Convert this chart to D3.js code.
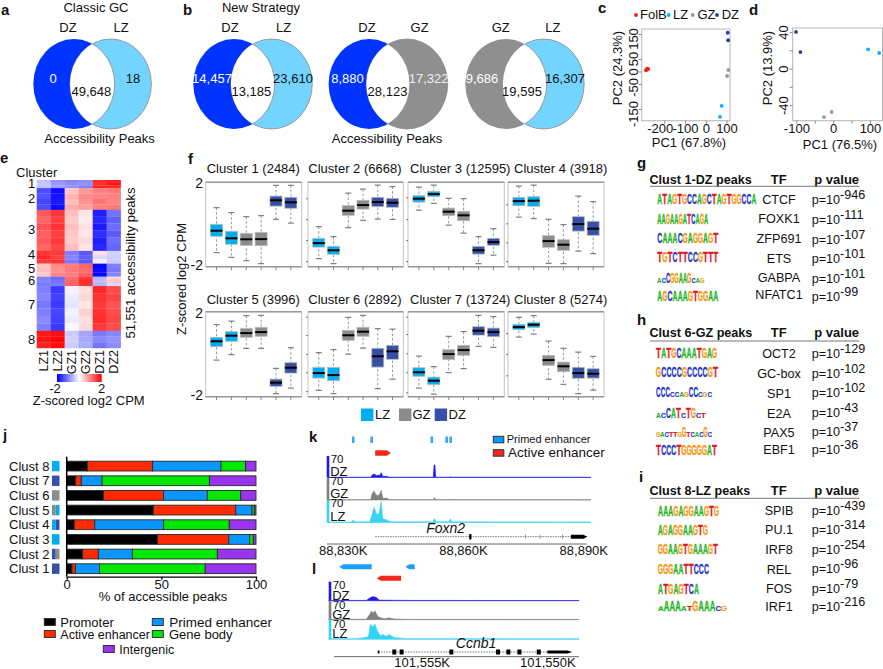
<!DOCTYPE html>
<html><head><meta charset="utf-8">
<script src="https://cdn.jsdelivr.net/npm/d3@7"></script>
<style>
html,body{margin:0;padding:0;background:#fff}
svg{display:block}
text{font-family:"Liberation Sans",Arial,sans-serif;font-size:13px;fill:#111}
.panel{font-weight:bold;font-size:15px}
</style></head><body>
<svg id="c" width="883" height="669"></svg>
<script>
// ---------- data ----------
const C = {DZ:"#0033ff", LZ:"#73d4ff", GZ:"#8f8f8f"};
const vennNames = [["DZ","LZ"],["DZ","LZ"],["DZ","GZ"],["GZ","LZ"]];
const vennLeft = [0,14457,8880,9686];
const vennBoth = [49648,13185,28123,19595];
const vennRight = [18,23610,17322,16307];

const folb = [[-288,5],[-285,8],[-282,11],[-278,10]];
const pcaCLZ = [[77,-138],[69,-182]];
const pcaCGZ = [[109,6],[103,-18]];
const pcaCDZ = [[106,155],[108,125]];
const pcaDLZ = [[95,21],[125,17]];
const pcaDGZ = [[-4,-47.5],[-25,-53]];
const pcaDDZ = [[-101,40],[-89,18]];

const clusterCounts = [2484,6668,12595,3918,3996,2892,13724,5274];
const heatSamples = ["LZ1","LZ2","GZ1","GZ2","DZ1","DZ2"];
const heat1 = [[-.5,-.85,-.95,-.9,1.7,1.75],[-.45,-.8,-.9,-.85,1.6,1.85],[-.5,-.75,-.85,-1,1.75,1.7]];
const heat2 = [[-1.4,-1.9,.45,.8,1,1.05],[-1.35,-1.85,.6,.9,.95,1],[-1.45,-1.8,.5,.85,1.1,.95],[-1.4,-1.9,.65,.75,1,1.05]];
const heat3 = [[1.3,1.55,.5,.2,-1.75,-1.1],[1.2,1.5,.4,.15,-1.7,-1.25],[1.35,1.6,.5,.25,-1.8,-1.15],[1.25,1.5,.45,.2,-1.65,-1.3],[1.3,1.55,.4,.3,-1.75,-1.15],[1.2,1.45,.5,.2,-1.7,-1.2]];
const heat4 = [[1.6,1.55,-1,-1.3,.25,-.35],[1.7,1.5,-.95,-1.25,-.3,-.4],[1.55,1.6,-1.05,-1.3,.15,-.4]];
const heat5 = [[.45,.9,1,1.2,-1.95,-1],[.5,.85,1.05,1.15,-1.9,-1.05],[.4,.95,1,1.25,-1.95,-.95]];
const heat6 = [[-1,-1.15,1.15,1.55,-.55,.3],[-.95,-1.1,1.2,1.65,-.5,.45],[-1.05,-1.05,1.25,1.6,-.6,-.3]];
const heat7 = [[-1,-1.55,-.1,.25,1.7,1.4],[-.95,-1.5,-.15,.3,1.6,1.45],[-1.05,-1.55,-.2,.2,1.55,1.35],[-1,-1.45,-.1,.35,1.6,1.4],[-.9,-1.5,-.15,.25,1.65,1.45],[-1,-1.55,-.05,.3,1.55,1.4]];
const heat8 = [[1.8,1.9,-.4,-.7,-1.05,-.95],[1.85,1.95,-.35,-.7,-.95,-.85],[1.75,1.9,-.4,-.65,-1.1,-.9]];
const heatRows = [heat1,heat2,heat3,heat4,heat5,heat6,heat7,heat8];

const boxGroups = ["LZ","LZ","GZ","GZ","DZ","DZ"];
const boxColors = {LZ:"#00aeef",GZ:"#8c8c8c",DZ:"#3650a8"};
// each box: whisker high, q3, median, q1, whisker low
const box1 = [[.70,-.13,-.45,-.73,-1.55],[.45,-.48,-.83,-1.13,-1.78],[.25,-.58,-.88,-1.18,-1.95],[.30,-.53,-.87,-1.20,-2.10],[1.82,1.28,1.07,.78,.12],[1.82,1.22,.97,.67,-.07]];
const box2 = [[-.25,-.83,-1.07,-1.27,-1.85],[-.75,-1.23,-1.43,-1.63,-2.10],[1.43,.80,.55,.32,-.30],[1.63,1.07,.83,.63,.07],[1.83,1.22,.98,.75,.13],[1.75,1.17,.95,.72,.12]];
const box3 = [[1.73,1.30,1.15,.98,.58],[1.83,1.52,1.38,1.25,.92],[1.17,.68,.50,.30,-.17],[1.15,.52,.32,.05,-.57],[-.75,-1.23,-1.43,-1.62,-2.10],[-.35,-.83,-1.02,-1.18,-1.67]];
const box4 = [[1.78,1.22,1.03,.80,.23],[1.83,1.25,1.05,.77,.15],[.12,-.70,-.97,-1.28,-2.08],[-.15,-.90,-1.15,-1.43,-2.10],[1.28,.25,-.12,-.47,-1.47],[1.00,.02,-.35,-.68,-1.60]];
const box5 = [[1.35,.72,.52,.25,-.42],[1.53,1.00,.80,.52,-.15],[1.80,1.17,.93,.72,.17],[1.82,1.22,.98,.77,.17],[-.83,-1.37,-1.55,-1.73,-2.10],[.20,-.55,-.80,-1.07,-1.82]];
const box6 = [[-.05,-.78,-1.07,-1.32,-1.93],[.10,-.78,-1.17,-1.45,-2.10],[1.72,1.07,.82,.57,-.12],[1.82,1.22,1.00,.77,.18],[1.15,.17,-.23,-.77,-1.85],[1.13,.32,.02,-.38,-1.37]];
const box7 = [[-.22,-.80,-1.03,-1.23,-1.82],[-.75,-1.27,-1.45,-1.65,-2.12],[.77,.10,-.12,-.40,-1.05],[1.00,.32,.08,-.18,-.85],[1.82,1.25,1.05,.83,.27],[1.75,1.18,.98,.75,.22]];
const box8 = [[1.72,1.37,1.23,1.10,.73],[1.80,1.47,1.35,1.20,.88],[.53,-.18,-.42,-.68,-1.38],[.17,-.52,-.73,-1.00,-1.63],[-.02,-.78,-1.07,-1.33,-2.10],[-.23,-.85,-1.10,-1.32,-1.92]];
const boxPanels = [box1,box2,box3,box4,box5,box6,box7,box8];
const panelTicks = [[],[1.17,.13,-.92,-1.97],[1.22,.13,-.92,-1.97],[.87,-.08,-1.03,-1.97],[],[1.75,.83,-.12,-1.03,-1.97],[1.75,.88,-.08,-1.03,-2.03],[.93,-.12,-1.18]];

const stackKeys = ["Promoter","Active enhancer","Primed enhancer","Gene body","Intergenic"];
const stackColors = ["#000000","#ff2a00","#0a96ff","#00e800","#9933ee"];
const clustNames = ["Clust 8","Clust 7","Clust 6","Clust 5","Clust 4","Clust 3","Clust 2","Clust 1"];
const clustSwatch = [["LZ"],["DZ"],["GZ"],["GZ","LZ"],["LZ","DZ"],["LZ"],["DZ","GZ"],["DZ"]];
const promoter = [10.9,4.8,19.5,45.8,4,48,8.5,2.8];
const active = [34.5,2.9,31.7,43.5,10.8,37.6,8.2,1.8];
const primed = [36.1,11,23.1,8.6,36.4,11.1,18,12.7];
const geneBody = [13,56.7,17.6,1.2,34.7,1.9,44.9,55.9];
const intergenic = [5.5,24.6,8.1,.9,14.1,1.4,20.4,26.8];

const kDZ = [[88826.3,.8],[88837,1],[88837.4,9],[88838,11],[88838.3,5],[88838.8,8],[88839.2,6],[88839.6,15],[88840,3],[88841,4],[88841.6,1],[88852.6,1],[88852.8,40],[88853,40],[88853.2,1],[88856.8,1],[88856.9,3],[88857.1,1],[88891.9,.8]];
const kGZ = [[88826.3,.8],[88837,1],[88837.3,18],[88837.8,29],[88838.2,18],[88838.6,14],[88839.1,16],[88839.6,31],[88840,5],[88841,6],[88841.6,1],[88852.6,1],[88852.9,8],[88853.2,1],[88856.7,1],[88856.9,3],[88857.1,1],[88891.9,.8]];
const kLZ = [[88826.3,1.5],[88832.2,1.5],[88832.6,8],[88833,2],[88836.8,2],[88837.2,20],[88837.8,48],[88838.3,32],[88838.6,24],[88839.1,30],[88839.6,66],[88840,12],[88841,8],[88842,2],[88852.5,2],[88852.9,12],[88853.3,2],[88856.6,2],[88856.9,12],[88857.2,2],[88891.9,1.5]];
const kPrimedBlocks = [88832.6,88837.2,88852.2,88855.9,88856.9];
const kActive = [88838.1,88842];
const kExons = [88861.8];
const kMinor = [88875.6,88879.2,88884.8];
const kGene = [88838.1,88891,88886.9];
const kTicks = [88830,88860,88890];

const lDZ = [[101558.7,.6],[101557.2,1],[101557.1,7],[101556.95,13],[101556.8,10],[101556.7,2],[101556.3,1.5],[101555.3,.8],[101548.74,.6]];
const lGZ = [[101558.7,.8],[101557.2,1.5],[101557.08,16],[101557,27],[101556.93,21],[101556.86,28],[101556.75,10],[101556.6,5],[101556.45,3],[101556.3,6],[101556.1,2],[101555.6,1],[101548.74,.8]];
const lLZ = [[101558.7,1.5],[101557.6,2],[101557.3,5],[101557.12,8],[101557.04,48],[101556.95,40],[101556.86,48],[101556.75,24],[101556.62,10],[101556.55,16],[101556.42,9],[101556.3,15],[101556.1,6],[101555.7,2],[101548.74,1.5]];
const lPrimedA = [101558.28,101556.99];
const lPrimedB = [101555.65,101555.28];
const lActive = [101556.79,101555.82];
const lExons = [101556.09,101555.8,101553.82,101551.96,101551.55,101551.11,101550.34];
const lGene = [101556.73,101549.03,101550];
const lTicks = [101555,101550];

// Motif strings: uppercase letters are tall, lowercase letters are short
const gNames = ["CTCF","FOXK1","ZFP691","ETS","GABPA","NFATC1"];
const gMotifs = ["ATAGTGCCAGCTAGTGGCCA","AAGAAGATCAGA","CAAACGAGGAGT","TGTCTTCCGTTT","acCGGAAGcag","AGCAAAGTGGAA"];
const gExp = ["-946","-111","-107","-101","-101","-99"];
const hNames = ["OCT2","GC-box","SP1","E2A","PAX5","EBF1"];
const hMotifs = ["TATGCAAATGAG","GCCCCGCCCCGT","CCCccagCCcgc","acCATcTGct","gacttgGtcacGc","TCCCTGGGGGAT"];
const hExp = ["-129","-102","-102","-43","-37","-36"];
const iNames = ["SPIB","PU.1","IRF8","REL","FOS","IRF1"];
const iMotifs = ["AAAGAGGAAGTG","AGAGGAAGTG","GGAAGTGAAAGT","GGGAATTCCC","ATGAGTCA","aAAAatGAAAcg"];
const iExp = ["-439","-314","-254","-96","-79","-216"];

// ---------- helpers ----------
const svg = d3.select("#c");
const defs = svg.append("defs");
function T(x,y,s,o={}){
  const t = svg.append("text").attr("x",x).attr("y",y).text(s)
    .attr("text-anchor",o.a||"middle");
  if(o.size) t.style("font-size",o.size+"px");
  if(o.fill) t.style("fill",o.fill);
  if(o.bold) t.style("font-weight","bold");
  if(o.it) t.style("font-style","italic");
  if(o.rot!=null) t.attr("transform",`rotate(${o.rot} ${x} ${y})`);
  return t;
}
const P = (x,y,s)=>T(x,y,s,{a:"start"}).attr("class","panel");

// ---------- a / b venns ----------
const fmt = d3.format(",");
const vennGeo = [
 {l:74,r:110.7,tx:[53,133,91.4],nx:[68,121],lab:vennNames[0]},
 {l:234,r:271.6,tx:[212,293,251.4],nx:[230,283.6],lab:vennNames[1]},
 {l:369.3,r:407,tx:[347.5,428.6,387.5],nx:[367,419.6],lab:vennNames[2]},
 {l:506,r:543.5,tx:[482,565,522],nx:[500.7,552.9],lab:vennNames[3]}];
const cy=84,rx=40.7,ry=45;
vennGeo.forEach((g,i)=>{
  const id="cl"+i, idr="cr"+i;
  defs.append("clipPath").attr("id",id).append("ellipse").attr("cx",g.l).attr("cy",cy).attr("rx",rx).attr("ry",ry);
  defs.append("clipPath").attr("id",idr).append("ellipse").attr("cx",g.r).attr("cy",cy).attr("rx",rx).attr("ry",ry);
  svg.append("ellipse").attr("cx",g.l).attr("cy",cy).attr("rx",rx).attr("ry",ry).attr("fill",C[g.lab[0]]);
  svg.append("ellipse").attr("cx",g.r).attr("cy",cy).attr("rx",rx).attr("ry",ry).attr("fill",C[g.lab[1]]).attr("stroke","#888").attr("stroke-width",.8);
  svg.append("ellipse").attr("cx",g.r).attr("cy",cy).attr("rx",rx).attr("ry",ry).attr("fill","#fff").attr("clip-path",`url(#${id})`);
  svg.append("ellipse").attr("cx",g.l).attr("cy",cy).attr("rx",rx).attr("ry",ry).attr("fill","none").attr("stroke","#888").attr("stroke-width",.8).attr("clip-path",`url(#${idr})`);
  T(g.nx[0],32,g.lab[0]); T(g.nx[1],32,g.lab[1]);
  T(g.tx[0],83,fmt(vennLeft[i]),{fill:"#fff"});
  T(g.tx[1],83,fmt(vennRight[i]),{fill:g.lab[1]==="GZ"?"#eee":"#111"});
  T(g.tx[2],96,fmt(vennBoth[i]));
});
P(1,15,"a"); P(183,15,"b");
T(96,12,"Classic GC"); T(261,12,"New Strategy");
T(99.6,143,"Accessibility Peaks"); T(387,143,"Accessibility Peaks");

// ---------- c / d PCA ----------
function pca(box,xs,ys,xTicks,xLabeled,yTicks,yLabeled,series,xTitle,yTitle,geom){
  const x=d3.scaleLinear().domain(xs).range([box[0],box[1]]);
  const y=d3.scaleLinear().domain(ys).range([box[3],box[2]]);
  svg.append("rect").attr("x",box[0]).attr("y",box[2]).attr("width",box[1]-box[0]).attr("height",box[3]-box[2]).attr("fill","none").attr("stroke","#b5b5b5");
  const ax=svg.append("g").attr("transform",`translate(0,${box[3]})`)
    .call(d3.axisBottom(x).tickValues(xTicks).tickSize(3).tickFormat(v=>xLabeled.includes(v)?String(v):""));
  ax.select(".domain").remove(); ax.selectAll("line").attr("stroke","#888");
  ax.selectAll("text").attr("y",geom.xTickDy).attr("dy",0).style("font-size","13px")
    .attr("x",v=>(geom.xShift&&geom.xShift[v])||0);
  const ay=svg.append("g").attr("transform",`translate(${box[0]},0)`)
    .call(d3.axisLeft(y).tickValues(yTicks).tickSize(3).tickFormat(v=>yLabeled.includes(v)?String(v):""));
  ay.select(".domain").remove(); ay.selectAll("line").attr("stroke","#888");
  ay.selectAll("text").attr("x",0).attr("y",0).attr("dy",0).attr("text-anchor","middle")
    .attr("transform",v=>`translate(${-geom.yTickDx},${(geom.yShift&&geom.yShift[v])||0}) rotate(-90)`).style("font-size","13px");
  series.forEach(s=>svg.selectAll(null).data(s[0]).join("circle")
     .attr("cx",d=>x(d[0])).attr("cy",d=>y(d[1])).attr("r",s[2]).attr("fill",s[1]));
  T(xTitle[1],xTitle[2],xTitle[0]);
  T(yTitle[1],yTitle[2],yTitle[0],{rot:-90});
}
pca([641.7,730,29,120.7],[-309,117],[-197,170],[-200,-100,0,100],[-200,-100,0,100],[150,50,0,-50,-150],[150,50,0,-50,-150],
  [[folb,"#ff1a1a",2],[pcaCLZ,"#00b4ff",1.9],[pcaCGZ,"#999",1.9],[pcaCDZ,"#25409c",1.9]],
  ["PC1 (67.8%)",689,147],["PC2 (24.3%)",622,68],{xTickDy:12,yTickDx:4,xShift:{"-200":-4.5},yShift:{"150":4.5,"-50":3,"-150":4.5,"50":-.5}});
pca([792.7,882.5,28,120.7],[-110,134],[-57,44.3],[-100,-50,0,50,100],[-100,0,100],[40,20,0,-20,-40],[40,0,-40],
  [[pcaDLZ,"#00b4ff",1.9],[pcaDGZ,"#999",1.9],[pcaDDZ,"#25409c",1.9]],
  ["PC1 (76.5%)",840,149],["PC2 (13.9%)",772,68],{xTickDy:12,yTickDx:5});
P(598,13,"c"); P(749,15,"d");
const pcaLegend=[["FolB","#ff1a1a",636,640],["LZ","#00b4ff",668.7,673],["GZ","#999",692.7,697.5],["DZ","#25409c",717,721.7]];
pcaLegend.forEach(l=>{
  svg.append("circle").attr("cx",l[2]).attr("cy",15).attr("r",1.9).attr("fill",l[1]);
  T(l[3],19,l[0],{a:"start"});
});

// ---------- e heatmap ----------
P(0,163,"e");
const cum=d3.cumsum(clusterCounts);
const hy=d3.scaleLinear().domain([0,d3.sum(clusterCounts)]).range([180,348]);
const hx=d3.scaleBand().domain(heatSamples).range([36.7,120.7]);
const hc=d3.scaleLinear().domain([-2,0,2]).range(["#0000ff","#ffffff","#ff0000"]);
heatRows.forEach((rows,i)=>{
  const y0=hy(i?cum[i-1]:0),y1=hy(cum[i]),h=(y1-y0)/rows.length;
  rows.forEach((r,j)=>r.forEach((v,k)=>{
    svg.append("rect").attr("x",hx(heatSamples[k])).attr("y",y0+j*h).attr("width",hx.bandwidth()+.2).attr("height",h+.2).attr("fill",hc(v));
  }));
});
T(36.7,177,"Cluster");
[189,204,235,260,274,286,310,345].forEach((y,i)=>T(31.7,y-1,String(i+1)));
heatSamples.forEach(s=>{const x=hx(s)+hx.bandwidth()/2+4.5; T(x,350,s,{a:"end",rot:-90,size:12.5});});
T(134.5,263,"51,551 accessibility peaks",{rot:-90});
defs.append("linearGradient").attr("id","hg").selectAll("stop").data([-2,-1,0,1,2]).join("stop")
  .attr("offset",d=>((d+2)*25)+"%").attr("stop-color",d=>hc(d));
svg.append("rect").attr("x",57).attr("y",374).attr("width",44.7).attr("height",8).attr("fill","url(#hg)");
T(55,393,"-2");T(101.7,393,"2");
T(88.7,405,"Z-scored log2 CPM");

// ---------- f boxplots ----------
P(188,164,"f");
const colX=[[205.7,301.7],[308,403.3],[408,504.3],[508,604]];
const rowY=[[182.3,266.7],[311.7,396.7]];
const rowDom=[[-2.25,1.97],[-2.25,2]];
const titleX=[206.7,308.3,410,514];
const titleY=[172.7,304.3];
boxPanels.forEach((d,i)=>{
  const c=i%4,r=i>3?1:0;
  const [x0,x1]=colX[c],[y0,y1]=rowY[r];
  const x=d3.scaleBand().domain(d3.range(6)).range([x0,x1]).paddingOuter(.23).paddingInner(0);
  const y=d3.scaleLinear().domain(rowDom[r]).range([y1,y0]);
  const g=svg.append("g");
  g.append("rect").attr("x",x0).attr("y",y0).attr("width",x1-x0).attr("height",y1-y0).attr("fill","#fff").attr("stroke","#c4c4c4");
  g.append("line").attr("x1",x0).attr("x2",x1).attr("y1",y0).attr("y2",y0).attr("stroke","#999").attr("stroke-width",1.4);
  g.append("line").attr("x1",x0).attr("x2",x1).attr("y1",y1).attr("y2",y1).attr("stroke","#999").attr("stroke-width",1.4);
  const bx=g.append("g").attr("transform",`translate(0,${y1})`).call(d3.axisBottom(x).tickSize(3.5).tickFormat(""));
  bx.select(".domain").remove(); bx.selectAll("line").attr("stroke","#888");
  const ly=g.append("g").attr("transform",`translate(${x0},0)`).call(d3.axisLeft(y).tickValues(panelTicks[i]).tickSize(2).tickFormat(""));
  ly.select(".domain").remove(); ly.selectAll("line").attr("stroke","#777");
  d.forEach((b,k)=>{
    const cx=x(k)+x.step()/2,w=12;
    const col=boxColors[boxGroups[k]];
    g.append("line").attr("x1",cx).attr("x2",cx).attr("y1",y(b[0])).attr("y2",y(b[4])).attr("stroke","#999").attr("stroke-dasharray","2.5,2");
    [b[0],b[4]].forEach(v=>g.append("line").attr("x1",cx-3).attr("x2",cx+3).attr("y1",y(v)).attr("y2",y(v)).attr("stroke","#666").attr("stroke-width",1));
    g.append("rect").attr("x",cx-w/2).attr("y",y(b[1])).attr("width",w).attr("height",y(b[3])-y(b[1])).attr("fill",col).attr("stroke","#bbb").attr("stroke-width",.8);
    g.append("line").attr("x1",cx-w/2).attr("x2",cx+w/2).attr("y1",y(b[2])).attr("y2",y(b[2])).attr("stroke","#000").attr("stroke-width",2);
  });
  T(titleX[c],titleY[r],`Cluster ${i+1} (${clusterCounts[i]})`,{a:"start"});
});
[[188,"2"],[270,"-2"],[317.5,"2"],[400,"-2"]].forEach(d=>T(203,d[0],d[1],{a:"end",size:14}));
T(186,279,"Z-scored log2 CPM",{rot:-90});
[["LZ",361,375],["GZ",399,412.5],["DZ",434.7,448.5]].forEach(d=>{
  svg.append("rect").attr("x",d[1]).attr("y",408.5).attr("width",12.4).attr("height",12.5).attr("fill",boxColors[d[0]]);
  T(d[2],419,d[0],{a:"start"});
});

// ---------- j stacked bars ----------
P(3,440,"j");
const jx=d3.scaleLinear().domain([0,100]).range([66.7,256]);
const jy=d3.scaleBand().domain(clustNames).range([458.7,576.1]).paddingInner(.33).paddingOuter(.17);
const stackRows=clustNames.map((n,i)=>({name:n,Promoter:promoter[i],"Active enhancer":active[i],"Primed enhancer":primed[i],"Gene body":geneBody[i],Intergenic:intergenic[i]}));
const stacked=d3.stack().keys(stackKeys)(stackRows);
stacked.forEach((s,i)=>{
  svg.selectAll(null).data(s).join("rect")
   .attr("x",d=>jx(d[0])).attr("y",d=>jy(d.data.name)).attr("width",d=>jx(d[1])-jx(d[0])).attr("height",jy.bandwidth())
   .attr("fill",stackColors[i]).attr("stroke","#2a2a2a").attr("stroke-width",.9);
});
clustNames.forEach((n,i)=>{
  const yc=jy(n)+jy.bandwidth()/2;
  T(49.5,yc+4.5,n,{a:"end"});
  const sw=clustSwatch[i],w=7.5/sw.length;
  sw.forEach((s,k)=>svg.append("rect").attr("x",52+k*w).attr("y",yc-5.2).attr("width",w).attr("height",10.4).attr("fill",boxColors[s]));
});
const jAxis=svg.append("g").attr("transform","translate(0,576.7)").call(d3.axisBottom(jx).tickValues([0,50,100]).tickSize(3).tickSizeOuter(0));
jAxis.selectAll("text").style("font-size","13px").attr("y",12.6).attr("dy",0);
jAxis.selectAll("path,line").attr("stroke","#000").attr("stroke-width",1.3);
svg.append("line").attr("x1",66.7).attr("x2",66.7).attr("y1",456.7).attr("y2",576.7).attr("stroke","#000").attr("stroke-width",1.5);
T(163,601,"% of accessible peaks");
const jLegend=[[44.3,622,60.3,13],[44.3,634,60.3,12.5],[152.3,622,169.3,13.5],[152.3,634,169,13],[103.3,649,119.3,12.5]];
stackKeys.forEach((k,i)=>{
  const l=jLegend[i];
  svg.append("rect").attr("x",l[0]).attr("y",l[1]-3.5).attr("width",11).attr("height",7).attr("fill",stackColors[i]).attr("stroke","#333");
  T(l[2],l[1]+4.5,k,{a:"start",size:l[3]});
});

// ---------- k / l tracks ----------
function arrow(x0,x1,y,h,col){ // points from x0 toward x1
  const d=x1>x0?1:-1,head=Math.min(4,Math.abs(x1-x0));
  svg.append("path").attr("d",`M${x0},${y-h/2}L${x1-d*head},${y-h/2}L${x1},${y}L${x1-d*head},${y+h/2}L${x0},${y+h/2}Z`).attr("fill",col);
}
function tracks(xs,barX,rows,data){
  const yv=d3.scaleLinear().domain([0,70]);
  rows.forEach((r,i)=>{
    const col=r.col; yv.range([r.base,r.base-22]);
    const area=d3.area().x(d=>xs(d[0])).y0(r.base).y1(d=>yv(d[1]));
    svg.append("path").attr("d",area(data[i])).attr("fill",col).attr("stroke",col).attr("stroke-width",.6);
    svg.append("rect").attr("x",barX).attr("y",r.top).attr("width",2.6).attr("height",r.base-r.top).attr("fill",col);
    T(barX+4,r.y70,"70",{a:"start",size:11.5});
    T(barX+3.5,r.yName,r.name,{a:"start",size:13});
  });
}
// k
P(309,442,"k");
const kx=d3.scaleLinear().domain([88830,88890]).range([342.7,583.3]);
tracks(kx,326.7,[
 {col:"#1a1aee",base:477.5,top:456,y70:463,yName:476,name:"DZ"},
 {col:"#808080",base:500,top:477.7,y70:485,yName:498,name:"GZ"},
 {col:"#35d4f7",base:522.5,top:500,y70:507,yName:521,name:"LZ"}],[kDZ,kGZ,kLZ]);
kPrimedBlocks.forEach(v=>svg.append("rect").attr("x",kx(v)-1.2).attr("y",436.5).attr("width",2.6).attr("height",6.5).attr("fill","#3aa6f5"));
arrow(kx(kActive[0]),kx(kActive[1]),453,5.5,"#f5271a");
svg.append("line").attr("x1",kx(kGene[0])).attr("x2",kx(kGene[1])).attr("y1",536.7).attr("y2",536.7).attr("stroke","#777").attr("stroke-dasharray","1.5,1");
kExons.forEach(v=>svg.append("rect").attr("x",kx(v)-1).attr("y",534).attr("width",2.2).attr("height",5.5).attr("fill","#000"));
kMinor.forEach(v=>svg.append("rect").attr("x",kx(v)-.3).attr("y",534.5).attr("width",.7).attr("height",4.4).attr("fill","#777"));
arrow(kx(kGene[2]),kx(kGene[1]),536.7,4,"#000");
T(445.7,533,"Foxn2",{it:1,size:14});
const kAxis=svg.append("g").attr("transform","translate(0,544)").call(d3.axisBottom(kx).tickValues(kTicks).tickSize(0).tickFormat(v=>fmt(v)+"K"));
kAxis.select(".domain").attr("d","M327,0H586.7").attr("stroke","#666");
kAxis.selectAll("text").style("font-size","13px").attr("y",10.5).attr("dy",0);
// k legend
[["Primed enhancer","#0a96ff",439.3,506.7,11],["Active enhancer","#f5271a",452.7,508,13.5]].forEach(d=>{
  svg.append("rect").attr("x",493.3).attr("y",d[2]-3).attr("width",10.5).attr("height",6.5).attr("fill",d[1]).attr("stroke","#333");
  T(d[3],d[2]+4,d[0],{a:"start",size:d[4]});
});
// l
P(312,574,"l");
const lx=d3.scaleLinear().domain([101555,101550]).range([421.7,547.3]);
tracks(lx,328.7,[
 {col:"#1a1aee",base:600.7,top:581.7,y70:588.5,yName:599.5,name:"DZ"},
 {col:"#808080",base:619.7,top:600.7,y70:608.5,yName:618.5,name:"GZ"},
 {col:"#35d4f7",base:639.3,top:619.7,y70:628,yName:638,name:"LZ"}],[lDZ,lGZ,lLZ]);
arrow(lx(lPrimedA[1]),lx(lPrimedA[0]),566.7,5,"#1aa0f5");
arrow(lx(lPrimedB[1]),lx(lPrimedB[0]),566.7,5,"#1aa0f5");
arrow(lx(lActive[1]),lx(lActive[0]),578.3,5,"#f5271a");
svg.append("line").attr("x1",lx(lGene[0])).attr("x2",lx(lGene[1])).attr("y1",652).attr("y2",652).attr("stroke","#777").attr("stroke-dasharray","1.5,1.2");
lExons.forEach(v=>svg.append("rect").attr("x",lx(v)-2).attr("y",649.5).attr("width",4).attr("height",5).attr("fill","#000"));
svg.append("rect").attr("x",lx(lGene[0])-.5).attr("y",650.5).attr("width",1.6).attr("height",3).attr("fill","#000");
arrow(lx(lGene[2]),lx(lGene[1]),652,3,"#000");
T(476,648,"Ccnb1",{it:1,size:14});
const lAxis=svg.append("g").attr("transform","translate(0,656.7)").call(d3.axisBottom(lx).tickValues(lTicks).tickSize(0).tickFormat(v=>fmt(v)+"K"));
lAxis.select(".domain").attr("d","M334,0H579").attr("stroke","#666");
lAxis.selectAll("text").style("font-size","13px").attr("y",10.5).attr("dy",0);

// ---------- g h i motif tables ----------
const baseCol={A:"#1db522",C:"#2138c8",G:"#f59a1a",T:"#e3131b"};
function motif(str,x0,w,yc){
  const step=w/str.length,H=11;
  [...str].forEach((ch,i)=>{
    const U=ch.toUpperCase(),small=ch!==U;
    const sy=(small?.42:1)*H/7.2, sx=step/(U==="T"?6.2:7.4);
    svg.append("text").text(U).attr("text-anchor","middle")
      .attr("transform",`translate(${x0+step*(i+.5)},${yc+H/2}) scale(${sx},${sy})`)
      .style("font-size","10px").style("font-weight","bold").style("fill",baseCol[U])
      .style("stroke",baseCol[U]).style("stroke-width",.25);
  });
}
function table(o){
  P(o.lx,o.ly,o.letter);
  T(649.5,o.head,o.title,{a:"start",bold:1,size:12.6});
  T(778.7,o.head,"TF",{bold:1}); T(836.7,o.head,"p value",{bold:1});
  svg.append("line").attr("x1",650).attr("x2",859.5).attr("y1",o.rule).attr("y2",o.rule).attr("stroke","#777").attr("stroke-width",1);
  o.names.forEach((n,i)=>{
    motif(o.motifs[i],o.mx,o.mw[i],o.my[i]);
    T(779,o.ty[i],n,{size:12.6});
    const t=T(811.7,o.py[i],"p=10",{a:"start",size:12.6});
    t.append("tspan").attr("dy",-5).text(o.exp[i]);
  });
}
table({letter:"g",lx:637,ly:168,title:"Clust 1-DZ peaks",head:184,rule:186.3,names:gNames,motifs:gMotifs,exp:gExp,mx:657.3,
  mw:[99,51,61,61,47,61],my:[198.3,218.3,237.7,256.7,277.3,295],
  ty:[203.7,223.3,243.3,263.3,282.3,299.3],py:[204,224,244,263,282.5,300.5]});
table({letter:"h",lx:637,ly:325,title:"Clust 6-GZ peaks",head:337.3,rule:341,names:hNames,motifs:hMotifs,exp:hExp,mx:656,
  mw:[61,62,56,50,56,61],my:[352.7,371.7,391.7,412.7,431.7,449],
  ty:[358.3,377.7,397.7,417.7,436.7,454.3],py:[358,377.5,397,416.5,435.5,454]});
table({letter:"i",lx:639,ly:481.7,title:"Clust 8-LZ peaks",head:495,rule:498.3,names:iNames,motifs:iMotifs,exp:iExp,mx:658,
  mw:[61,50,60,51,41,69],my:[510,529.3,548.3,568.7,588.3,605],
  ty:[515,534.3,554,574.3,593.3,610.7],py:[514.5,533.5,553.5,573,593,610.5]});
</script>
</body></html>
